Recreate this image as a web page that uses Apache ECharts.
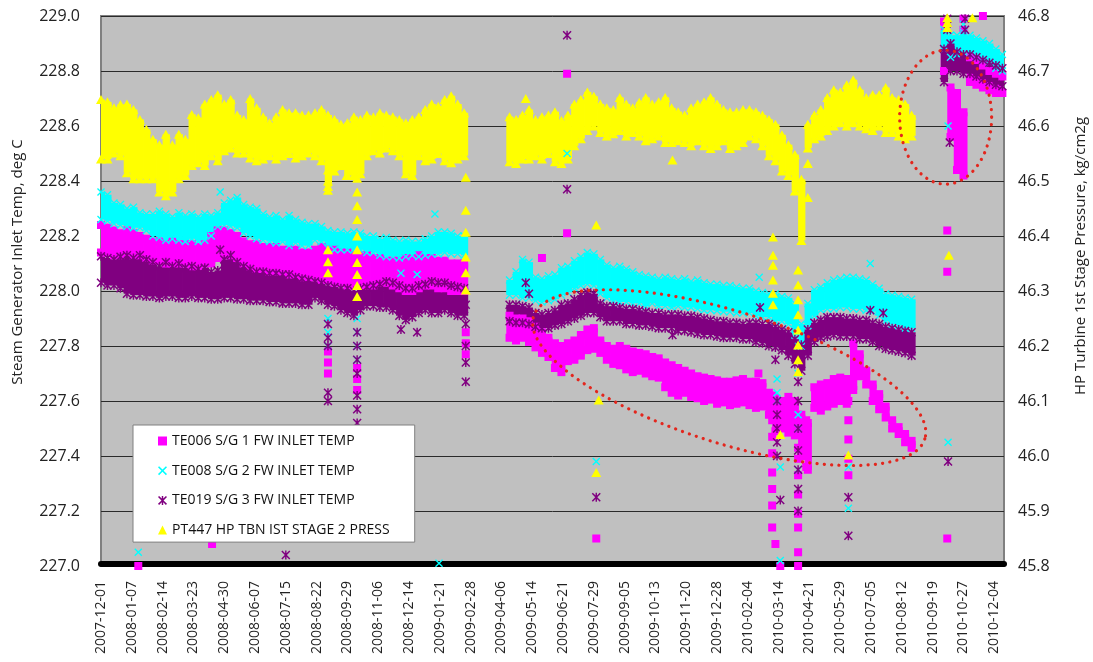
<!DOCTYPE html>
<html>
<head>
<meta charset="utf-8">
<script src="https://cdn.jsdelivr.net/npm/echarts@6/dist/echarts.min.js"></script>
<style>
  html, body { margin: 0; padding: 0; background: #ffffff; }
  #chart { width: 1093px; height: 662px; }
</style>
</head>
<body>
<div id="chart"></div>
<script>
// Category labels shown along the time axis (one every 38 rows of log data)
const tickLabels = [
  '2007-12-01','2008-01-07','2008-02-14','2008-03-23','2008-04-30','2008-06-07',
  '2008-07-15','2008-08-22','2008-09-29','2008-11-06','2008-12-14','2009-01-21',
  '2009-02-28','2009-04-06','2009-05-14','2009-06-21','2009-07-29','2009-09-05',
  '2009-10-13','2009-11-20','2009-12-28','2010-02-04','2010-03-14','2010-04-21',
  '2010-05-29','2010-07-05','2010-08-12','2010-09-19','2010-10-27','2010-12-04'
];
const ROWS_PER_LABEL = 38;
const ROW_STEP = 8;        // each hi/lo entry below covers 8 log rows
const LAST_ROW = 1114;

// TE006 S/G 1 FW inlet temp, deg C : upper / lower extent of readings per 8-row block
const te006Hi = [
  228.24,228.23,228.22,228.21,228.22,228.21,228.20,228.19,228.18,228.18,
  228.17,228.18,228.17,228.17,228.17,228.16,228.17,228.20,228.22,228.22,
  228.21,228.20,228.18,228.17,228.17,228.16,228.16,228.16,228.15,228.15,
  228.15,228.14,228.14,228.15,228.16,228.15,228.15,228.14,228.14,228.13,
  228.13,228.13,228.12,228.12,228.11,228.11,228.11,228.12,228.12,228.13,
  228.12,228.12,228.11,228.11,228.10,228.10,228.10,
  null,null,null,null,null,null,
  227.91,227.90,227.90,227.89,227.87,227.85,227.83,227.81,227.80,227.81,
  227.82,227.84,227.86,227.865,227.82,227.80,227.79,227.80,227.79,227.78,
  227.775,227.77,227.76,227.755,227.74,227.73,227.72,227.71,227.70,227.69,
  227.685,227.68,227.675,227.67,227.67,227.675,227.68,227.67,227.67,227.665,
  227.63,227.61,227.60,227.615,227.60,227.55,227.52,227.65,227.66,227.665,
  227.68,227.685,227.68,227.81,227.77,227.71,227.66,227.625,227.58,227.53,
  227.505,227.48,227.455,
  null,null,null,null,
  228.98,228.74,228.72,228.65,228.85,228.84,228.82,228.80,228.79,228.78
];
const te006Lo = [
  228.14,228.14,228.13,228.13,228.14,228.13,228.13,228.12,228.11,228.11,
  228.10,228.10,228.10,228.10,228.09,228.09,228.10,228.10,228.12,228.13,
  228.13,228.12,228.10,228.09,228.08,228.08,228.07,228.07,228.07,228.06,
  228.06,228.05,228.05,228.05,228.04,228.04,228.03,228.03,228.02,228.02,
  228.02,228.02,228.02,228.03,228.03,228.02,228.01,228.00,228.00,228.01,
  228.02,228.02,228.01,228.01,228.00,228.00,228.00,
  null,null,null,null,null,null,
  227.83,227.82,227.83,227.815,227.795,227.775,227.76,227.72,227.705,227.745,
  227.75,227.765,227.785,227.79,227.775,227.75,227.735,227.73,227.715,227.705,
  227.71,227.70,227.69,227.685,227.65,227.63,227.62,227.63,227.615,227.61,
  227.60,227.605,227.59,227.595,227.585,227.59,227.595,227.585,227.575,227.58,
  227.55,227.49,227.50,227.485,227.475,227.40,227.35,227.575,227.565,227.58,
  227.59,227.60,227.59,227.64,227.69,227.66,227.60,227.57,227.54,227.50,
  227.48,227.45,227.43,
  null,null,null,null,
  228.80,228.56,228.44,228.42,228.76,228.75,228.74,228.73,228.72,228.72
];
// isolated TE006 readings: [row, deg C]
const te006Spikes = [
  [46,227.0],[137,227.08],[280,227.78],[280,227.74],[280,227.70],[316,227.72],[316,227.68],
  [316,227.64],[450,227.85],[450,227.81],[450,227.77],[544,228.12],[575,228.79],[575,228.21],
  [611,227.10],[811,227.70],[828,227.62],[828,227.53],[828,227.47],[828,227.41],[828,227.34],
  [828,227.28],[828,227.22],[828,227.14],[832,227.08],[838,227.0],[860,227.55],[860,227.49],
  [860,227.43],[860,227.39],[860,227.33],[860,227.26],[860,227.19],[860,227.14],[860,227.05],
  [860,227.0],[870,227.53],[870,227.47],[870,227.41],[870,227.36],[922,227.60],[922,227.53],
  [922,227.46],[922,227.39],[922,227.33],[1044,228.22],[1044,228.07],[1044,227.10],
  [1064,228.99],[1064,228.95],[1088,229.0]
];

// TE008 S/G 2 FW inlet temp, deg C
const te008Hi = [
  228.36,228.35,228.32,228.315,228.30,228.305,228.285,228.28,228.28,228.29,
  228.28,228.27,228.285,228.275,228.28,228.27,228.28,228.275,228.285,228.32,
  228.33,228.34,228.315,228.305,228.30,228.28,228.27,228.275,228.26,228.275,
  228.26,228.25,228.245,228.245,228.235,228.22,228.215,228.215,228.21,228.215,
  228.21,228.20,228.20,228.19,228.195,228.185,228.18,228.185,228.18,228.18,
  228.19,228.20,228.215,228.215,228.21,228.20,228.20,
  null,null,null,null,null,null,
  228.04,228.07,228.115,228.105,228.05,228.045,228.055,228.06,228.085,228.09,
  228.11,228.125,228.14,228.135,228.115,228.095,228.085,228.09,228.08,228.07,
  228.06,228.055,228.05,228.045,228.05,228.045,228.04,228.045,228.035,228.04,
  228.03,228.025,228.025,228.02,228.02,228.015,228.01,228.01,228.00,227.995,
  227.99,227.99,227.98,227.975,227.955,227.88,227.955,228.005,228.015,228.03,
  228.04,228.045,228.05,228.05,228.045,228.04,228.025,228.01,227.99,227.985,
  227.98,227.975,227.97,
  null,null,null,null,
  228.95,228.93,228.93,228.94,228.93,228.92,228.91,228.90,228.88,228.86
];
const te008Lo = [
  228.26,228.255,228.245,228.24,228.235,228.23,228.23,228.22,228.20,228.195,
  228.185,228.19,228.185,228.18,228.19,228.18,228.185,228.20,228.235,228.24,
  228.235,228.23,228.21,228.20,228.19,228.185,228.18,228.175,228.18,228.165,
  228.175,228.165,228.165,228.185,228.18,228.155,228.15,228.15,228.15,228.15,
  228.15,228.14,228.14,228.13,228.125,228.125,228.12,228.125,228.13,228.125,
  228.13,228.135,228.135,228.14,228.135,228.135,228.13,
  null,null,null,null,null,null,
  227.985,227.985,227.975,227.975,227.965,227.96,227.965,227.97,227.985,227.995,
  228.01,228.02,228.025,228.02,227.99,227.975,227.965,227.96,227.96,227.955,
  227.955,227.945,227.955,227.945,227.945,227.94,227.945,227.94,227.94,227.935,
  227.93,227.93,227.928,227.925,227.925,227.92,227.92,227.92,227.91,227.905,
  227.905,227.89,227.89,227.88,227.84,227.80,227.875,227.91,227.93,227.935,
  227.935,227.94,227.94,227.935,227.935,227.93,227.925,227.91,227.89,227.88,
  227.875,227.865,227.865,
  null,null,null,null,
  228.88,228.85,228.86,228.87,228.86,228.85,228.84,228.83,228.81,228.80
];
const te008Spikes = [
  [46,227.05],[147,228.36],[280,227.90],[280,227.85],[280,227.80],[316,227.90],[316,227.85],
  [316,227.80],[316,227.75],[370,228.065],[390,228.06],[412,228.28],[417,227.01],[575,228.50],
  [611,227.38],[812,228.05],[834,227.68],[834,227.63],[834,227.60],[838,227.36],[838,227.02],
  [860,227.80],[860,227.70],[860,227.55],[860,227.50],[860,227.35],[922,227.36],[922,227.21],
  [949,228.10],[1045,228.60],[1045,227.45],[1064,228.97],[1064,228.93]
];

// TE019 S/G 3 FW inlet temp, deg C
const te019Hi = [
  228.126,228.12,228.115,228.125,228.13,228.12,228.13,228.115,228.105,228.09,
  228.105,228.09,228.10,228.085,228.09,228.08,228.085,228.07,228.075,228.115,
  228.13,228.105,228.09,228.08,228.07,228.07,228.065,228.065,228.06,228.06,
  228.05,228.045,228.04,228.035,228.03,228.02,228.015,228.01,228.01,228.00,
  228.01,228.015,228.02,228.025,228.035,228.03,228.02,228.01,228.01,228.02,
  228.025,228.035,228.03,228.03,228.02,228.015,228.01,
  null,null,null,null,null,null,
  227.95,227.95,227.945,227.94,227.92,227.915,227.92,227.93,227.95,227.955,
  227.97,227.985,227.995,227.99,227.955,227.945,227.945,227.94,227.935,227.935,
  227.93,227.925,227.92,227.92,227.915,227.915,227.915,227.91,227.91,227.905,
  227.90,227.895,227.89,227.89,227.885,227.885,227.88,227.885,227.885,227.88,
  227.88,227.87,227.86,227.85,227.825,227.805,227.86,227.885,227.895,227.905,
  227.905,227.905,227.90,227.90,227.895,227.895,227.885,227.88,227.87,227.865,
  227.86,227.855,227.85,
  null,null,null,null,
  228.88,228.90,228.87,228.86,228.86,228.85,228.84,228.83,228.82,228.81
];
const te019Lo = [
  228.03,228.02,228.02,228.01,227.99,227.985,227.985,227.98,227.98,227.975,
  227.98,227.98,227.975,227.975,227.98,227.975,227.975,227.97,227.97,227.975,
  227.975,227.97,227.97,227.965,227.965,227.965,227.96,227.96,227.955,227.955,
  227.955,227.95,227.95,227.975,227.965,227.95,227.945,227.93,227.92,227.91,
  227.93,227.945,227.945,227.94,227.94,227.93,227.91,227.895,227.905,227.92,
  227.93,227.92,227.92,227.93,227.92,227.91,227.91,
  null,null,null,null,null,null,
  227.89,227.885,227.885,227.88,227.87,227.865,227.865,227.875,227.88,227.89,
  227.90,227.91,227.92,227.92,227.905,227.89,227.89,227.89,227.88,227.88,
  227.875,227.875,227.87,227.865,227.865,227.865,227.855,227.855,227.85,227.845,
  227.84,227.84,227.835,227.83,227.83,227.83,227.825,227.825,227.815,227.81,
  227.80,227.795,227.785,227.765,227.735,227.71,227.765,227.815,227.83,227.835,
  227.84,227.835,227.835,227.835,227.825,227.825,227.815,227.80,227.79,227.785,
  227.78,227.775,227.765,
  null,null,null,null,
  228.76,228.80,228.80,228.79,228.79,228.78,228.77,228.76,228.75,228.745
];
const te019Spikes = [
  [147,228.15],[228,227.04],[280,227.88],[280,227.83],[280,227.80],[280,227.63],[280,227.60],
  [316,227.85],[316,227.80],[316,227.75],[316,227.70],[316,227.62],[316,227.57],[316,227.52],
  [370,227.86],[390,227.85],[450,227.95],[450,227.88],[450,227.80],[450,227.74],[450,227.67],
  [524,228.03],[528,227.99],[575,228.93],[575,228.37],[611,227.25],[705,227.84],[813,227.94],
  [832,227.75],[834,227.60],[834,227.55],[834,227.50],[834,227.45],[834,227.40],[838,227.24],
  [860,227.67],[860,227.60],[860,227.50],[860,227.42],[860,227.35],[860,227.28],[860,227.20],
  [922,227.25],[922,227.11],[949,227.93],[965,227.92],[1045,227.38],[1047,228.54],
  [1044,228.99],[1044,228.95],[1066,228.99],[1066,228.95]
];

// PT447 HP turbine 1st stage pressure, kg/cm2g (right axis)
const pt447Hi = [
  46.648,46.644,46.633,46.639,46.640,46.630,46.612,46.594,46.576,46.566,
  46.585,46.566,46.585,46.576,46.621,46.615,46.640,46.648,46.657,46.640,
  46.648,46.620,46.612,46.650,46.633,46.617,46.606,46.617,46.630,46.624,
  46.624,46.620,46.620,46.624,46.630,46.620,46.612,46.603,46.606,46.617,
  46.612,46.620,46.617,46.624,46.620,46.617,46.612,46.606,46.612,46.617,
  46.630,46.640,46.636,46.648,46.655,46.640,46.624,
  null,null,null,null,null,null,
  46.617,46.612,46.620,46.630,46.612,46.617,46.620,46.626,46.610,46.620,
  46.640,46.648,46.662,46.654,46.640,46.633,46.630,46.652,46.640,46.633,
  46.643,46.652,46.640,46.644,46.652,46.633,46.626,46.620,46.633,46.640,
  46.644,46.652,46.640,46.630,46.626,46.626,46.630,46.630,46.626,46.620,
  46.612,46.603,46.584,46.566,46.548,46.503,46.603,46.620,46.630,46.652,
  46.666,46.662,46.675,46.684,46.666,46.652,46.657,46.657,46.670,46.652,
  46.648,46.640,46.620,
  null,null,null,null,
  null,null,null,null,null,null,null,null,null,null
];
const pt447Lo = [
  46.540,46.540,46.551,46.546,46.515,46.504,46.504,46.504,46.504,46.480,
  46.473,46.480,46.504,46.510,46.528,46.533,46.528,46.546,46.537,46.555,
  46.560,46.551,46.551,46.542,46.537,46.540,46.546,46.540,46.546,46.550,
  46.542,46.546,46.551,46.546,46.537,46.490,46.518,46.528,46.510,46.510,
  46.513,46.546,46.555,46.551,46.560,46.555,46.546,46.513,46.510,46.546,
  46.537,46.540,46.550,46.537,46.533,46.540,46.546,
  null,null,null,null,null,null,
  46.535,46.532,46.540,46.540,46.546,46.540,46.550,46.535,46.532,46.540,
  46.564,46.577,46.592,46.600,46.588,46.582,46.586,46.592,46.582,46.588,
  46.582,46.573,46.577,46.582,46.570,46.570,46.573,46.570,46.564,46.573,
  46.564,46.559,46.564,46.573,46.559,46.564,46.570,46.582,46.577,46.564,
  46.546,46.537,46.518,46.510,46.482,46.392,46.560,46.577,46.582,46.592,
  46.600,46.606,46.600,46.606,46.600,46.595,46.592,46.600,46.588,46.588,
  46.582,46.577,46.582,
  null,null,null,null,
  null,null,null,null,null,null,null,null,null,null
];
const pt447Spikes = [
  [280,46.520],[280,46.500],[280,46.483],[280,46.375],[280,46.353],[280,46.333],
  [303,46.532],[303,46.510],[316,46.532],[316,46.505],[316,46.480],[316,46.455],[316,46.430],
  [316,46.400],[316,46.375],[316,46.352],[316,46.330],[316,46.310],[316,46.290],
  [450,46.507],[450,46.447],[450,46.407],[450,46.362],[450,46.333],[450,46.302],
  [524,46.650],[611,46.420],[611,45.970],[614,46.102],[705,46.538],
  [829,46.398],[829,46.365],[829,46.347],[829,46.320],[829,46.296],[829,46.275],[838,46.039],
  [860,46.338],[860,46.311],[860,46.284],[860,46.257],[860,46.229],[860,46.202],[860,46.175],
  [860,46.153],[872,46.532],[872,46.470],[922,46.002],
  [1044,46.797],[1044,46.788],[1044,46.779],[1046,46.365],[1075,46.797]
];

const seriesNames = [
  'TE006 S/G 1 FW INLET TEMP',
  'TE008 S/G 2 FW INLET TEMP',
  'TE019 S/G 3 FW INLET TEMP',
  'PT447 HP TBN IST STAGE 2 PRESS'
];
const seriesColors = ['#ff00ff', '#00ffff', '#800080', '#ffff00'];

// marker shapes: cross and six-armed star
const CROSS = 'path://M0,1.2L1.2,0L5,3.8L8.8,0L10,1.2L6.2,5L10,8.8L8.8,10L5,6.2L1.2,10L0,8.8L3.8,5Z';
const STAR = 'path://M0,1.2L1.2,0L5,3.8L8.8,0L10,1.2L6.2,5L10,8.8L8.8,10L5,6.2L1.2,10L0,8.8L3.8,5Z M4.2,0L5.8,0L5.8,10L4.2,10Z';

function edgePoints(hi, lo, spikes) {
  const pts = [];
  hi.forEach((v, i) => {
    if (v == null) return;
    pts.push([i * ROW_STEP, v]);
    pts.push([i * ROW_STEP, lo[i]]);
  });
  return pts.concat(spikes);
}
function blockRanges(hi, lo) {
  const out = [];
  hi.forEach((v, i) => { if (v != null) out.push([i * ROW_STEP, v, lo[i]]); });
  return out;
}
function blockFill(color) {
  return function (params, api) {
    const x = api.value(0);
    const a = api.coord([x - ROW_STEP / 2, api.value(1)]);
    const b = api.coord([x + ROW_STEP / 2, api.value(2)]);
    return {
      type: 'rect',
      shape: { x: a[0], y: a[1], width: b[0] - a[0] + 0.8, height: b[1] - a[1] },
      style: { fill: color }
    };
  };
}

const groups = [
  { hi: te006Hi, lo: te006Lo, spikes: te006Spikes, symbol: 'rect', size: 8, axis: 0 },
  { hi: te008Hi, lo: te008Lo, spikes: te008Spikes, symbol: CROSS, size: 8, axis: 0 },
  { hi: te019Hi, lo: te019Lo, spikes: te019Spikes, symbol: STAR, size: 9, axis: 0 },
  { hi: pt447Hi, lo: pt447Lo, spikes: pt447Spikes, symbol: 'triangle', size: [10, 9], axis: 1 }
];

const series = [];
groups.forEach((g, k) => {
  series.push({
    name: seriesNames[k] + ' range',
    type: 'custom',
    yAxisIndex: g.axis,
    data: blockRanges(g.hi, g.lo),
    encode: { x: 0, y: [1, 2] },
    renderItem: blockFill(seriesColors[k]),
    clip: true,
    silent: true
  });
  series.push({
    name: seriesNames[k],
    type: 'scatter',
    yAxisIndex: g.axis,
    symbol: g.symbol,
    symbolSize: g.size,
    itemStyle: { color: seriesColors[k], opacity: 1 },
    data: edgePoints(g.hi, g.lo, g.spikes),
    clip: true,
    silent: true
  });
});

const FONT = '"Open Sans", "Noto Sans", sans-serif';
const chart = echarts.init(document.getElementById('chart'), null, { renderer: 'canvas' });

chart.setOption({
  animation: false,
  backgroundColor: '#ffffff',
  grid: {
    left: 101, right: 89, top: 16, bottom: 96,
    show: true, backgroundColor: '#c0c0c0', borderColor: '#808080', borderWidth: 2
  },
  legend: {
    data: seriesNames,
    orient: 'vertical',
    left: 133, top: 425,
    padding: [9, 25, 5, 25],
    itemGap: 15.7,
    itemWidth: 9, itemHeight: 9,
    backgroundColor: '#ffffff',
    borderColor: '#808080', borderWidth: 1,
    textStyle: { fontFamily: FONT, fontSize: 14, color: '#111' }
  },
  xAxis: {
    type: 'value',
    min: 0, max: LAST_ROW, interval: ROWS_PER_LABEL,
    offset: -2,
    axisLine: { show: true, onZero: false, lineStyle: { color: '#000', width: 6 } },
    axisTick: { show: false },
    splitLine: { show: false },
    axisLabel: {
      rotate: 90, margin: 17, fontFamily: FONT, fontSize: 14, color: '#222',
      showMaxLabel: false,
      formatter: v => {
        const k = v / ROWS_PER_LABEL;
        return Number.isInteger(k) && tickLabels[k] ? tickLabels[k] : '';
      }
    }
  },
  yAxis: [
    {
      type: 'value', min: 227, max: 229, interval: 0.2, position: 'left',
      axisLine: { show: false }, axisTick: { show: false },
      splitLine: { show: true, lineStyle: { color: '#2a2a2a', width: 1 } },
      axisLabel: { margin: 21, fontFamily: FONT, fontSize: 16, color: '#222', formatter: v => v.toFixed(1) }
    },
    {
      type: 'value', min: 45.8, max: 46.8, interval: 0.1, position: 'right',
      axisLine: { show: false }, axisTick: { show: false },
      splitLine: { show: false },
      axisLabel: { margin: 14, fontFamily: FONT, fontSize: 16, color: '#222', formatter: v => v.toFixed(1) }
    }
  ],
  series: series
});

// red dotted rings marking the drifting S/G 1 trend and the late-2010 jump
function ringPoints(center, a, b, deg) {
  const t = deg * Math.PI / 180, pts = [];
  for (let k = 0; k <= 160; k++) {
    const u = k / 160 * 2 * Math.PI;
    const ex = a * Math.cos(u), ey = b * Math.sin(u);
    pts.push([center[0] + ex * Math.cos(t) - ey * Math.sin(t), center[1] + ex * Math.sin(t) + ey * Math.cos(t)]);
  }
  return pts;
}
const ringA = chart.convertToPixel({ xAxisIndex: 0, yAxisIndex: 0 }, [775, 227.685]);
const ringB = chart.convertToPixel({ xAxisIndex: 0, yAxisIndex: 0 }, [1042, 228.632]);
const dotStyle = { stroke: '#e3261d', lineWidth: 3.2, lineDash: [0.1, 7.2], lineCap: 'round', fill: null };

chart.setOption({
  graphic: [
    { type: 'polyline', silent: true, z: 50, shape: { points: ringPoints(ringA, 205, 66, 17.4) }, style: dotStyle },
    { type: 'polyline', silent: true, z: 50, shape: { points: ringPoints(ringB, 46, 67, 0) }, style: dotStyle },
    {
      type: 'text', x: 18, y: 262, rotation: Math.PI / 2, silent: true,
      style: { text: 'Steam Generator Inlet Temp, deg C', font: '15px ' + FONT, fill: '#222',
               textAlign: 'center', textVerticalAlign: 'middle' }
    },
    {
      type: 'text', x: 1081, y: 256, rotation: Math.PI / 2, silent: true,
      style: { text: 'HP Turbine 1st Stage Pressure, kg/cm2g', font: '15px ' + FONT, fill: '#222',
               textAlign: 'center', textVerticalAlign: 'middle' }
    }
  ]
});
</script>
</body>
</html>
